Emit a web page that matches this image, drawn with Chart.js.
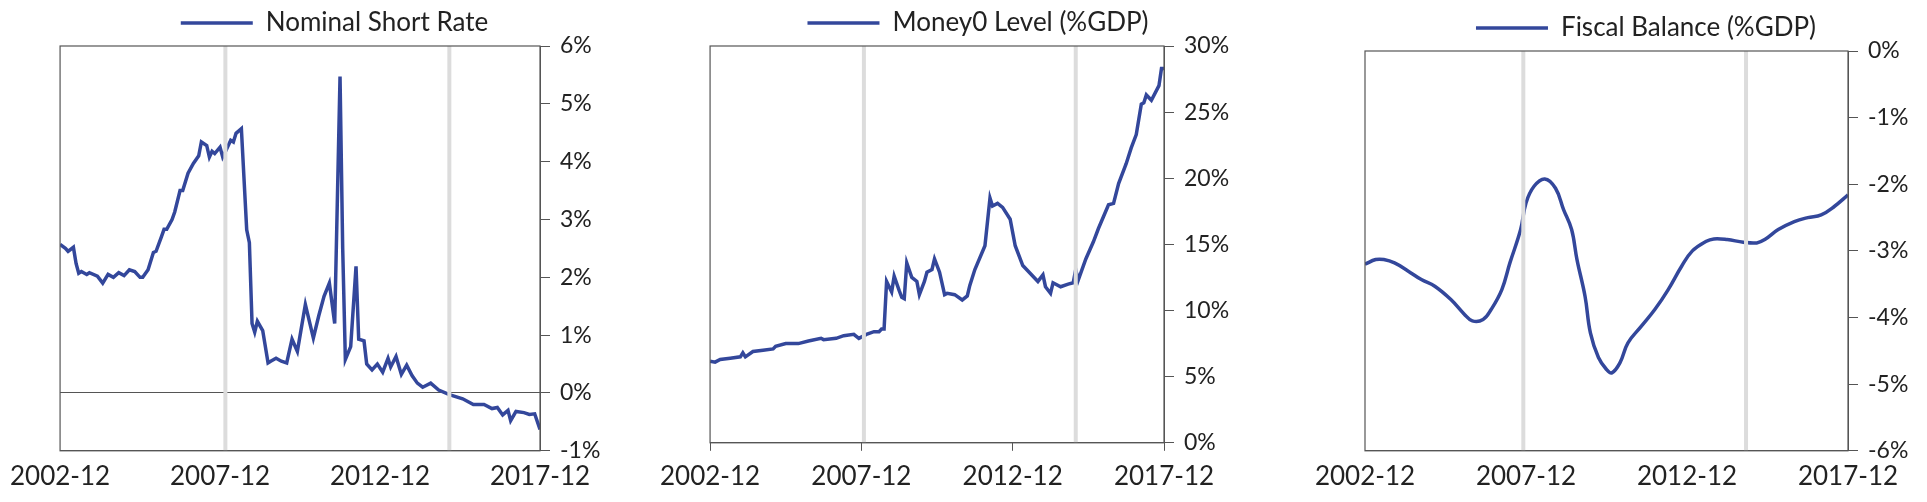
<!DOCTYPE html>
<html>
<head>
<meta charset="utf-8">
<script src="https://cdn.jsdelivr.net/npm/chart.js@4/dist/chart.umd.min.js"></script>
<style>
  body { margin: 0; background: #fff; }
  .panel { position: absolute; top: 0; height: 502px; }
</style>
</head>
<body>
<div class="panel" style="left:0;width:620px"><canvas id="c1"></canvas></div>
<div class="panel" style="left:650px;width:604px"><canvas id="c2"></canvas></div>
<div class="panel" style="left:1300px;width:627px"><canvas id="c3"></canvas></div>
<script>
// months since 2002-12
const tickLabels = ['2002-12', '2007-12', '2012-12', '2017-12'];

const rateMonths = [0, 2, 3, 5, 6, 7, 8, 10, 11, 14, 16, 18, 20, 22, 24, 26, 28, 30, 31, 33, 35, 36, 38, 39, 40, 42, 43, 45, 46, 48, 50, 52, 53, 55, 56, 57, 58, 60, 61, 62, 64, 65, 66, 68, 70, 71, 72, 73, 74, 76, 78, 79, 81, 83, 85, 87, 89, 92, 95, 97, 99, 101, 103, 105, 106, 107, 109, 111, 112, 114, 115, 117, 119, 121, 123, 124, 126, 128, 130, 132, 134, 136, 139, 142, 146, 151, 155, 159, 162, 164, 166, 168, 169, 171, 174, 176, 178, 180];
const rateValues = [2.57, 2.5, 2.45, 2.52, 2.24, 2.07, 2.1, 2.05, 2.08, 2.02, 1.9, 2.05, 2.0, 2.08, 2.03, 2.13, 2.1, 2.0, 2.0, 2.13, 2.43, 2.45, 2.7, 2.83, 2.83, 3.0, 3.13, 3.5, 3.5, 3.8, 3.97, 4.1, 4.34, 4.28, 4.08, 4.18, 4.14, 4.25, 4.08, 4.17, 4.37, 4.34, 4.49, 4.57, 2.82, 2.6, 1.2, 1.05, 1.24, 1.08, 0.52, 0.55, 0.6, 0.55, 0.52, 0.93, 0.72, 1.53, 0.95, 1.33, 1.67, 1.9, 1.2, 5.47, 2.5, 0.58, 0.8, 2.19, 0.93, 0.9, 0.5, 0.4, 0.5, 0.36, 0.6, 0.45, 0.63, 0.32, 0.48, 0.3, 0.17, 0.1, 0.17, 0.05, -0.03, -0.1, -0.2, -0.2, -0.27, -0.25, -0.38, -0.3, -0.48, -0.32, -0.34, -0.37, -0.36, -0.63];

const moneyMonths = [0, 2, 4, 8, 12, 13, 14, 17, 21, 25, 26, 30, 35, 39, 44, 45, 50, 53, 57, 59, 62, 65, 67, 68, 69, 70, 72, 73, 75, 76, 77, 78, 80, 82, 83, 85, 86, 88, 89, 91, 93, 94, 97, 100, 102, 103, 105, 109, 111, 112, 114, 116, 119, 121, 124, 127, 130, 132, 133, 135, 136, 139, 142, 144, 145, 146, 149, 152, 154, 158, 160, 162, 165, 167, 169, 171, 172, 173, 175, 178, 179, 180];
const moneyValues = [6.17, 6.1, 6.3, 6.4, 6.5, 6.8, 6.5, 6.9, 7.0, 7.1, 7.3, 7.5, 7.5, 7.7, 7.9, 7.8, 7.9, 8.1, 8.2, 7.9, 8.2, 8.4, 8.4, 8.6, 8.6, 12.2, 11.4, 12.6, 11.5, 11.0, 10.9, 13.6, 12.5, 12.2, 11.2, 12.2, 12.9, 13.1, 13.9, 12.9, 11.2, 11.3, 11.2, 10.8, 11.1, 11.9, 13.1, 14.9, 18.5, 17.9, 18.1, 17.8, 16.9, 14.9, 13.4, 12.8, 12.2, 12.7, 11.8, 11.3, 12.1, 11.8, 12.0, 12.1, 13.1, 12.3, 13.9, 15.2, 16.2, 18.0, 18.1, 19.6, 21.1, 22.3, 23.3, 25.6, 25.7, 26.3, 25.9, 27.0, 28.3, 28.3];

const fiscalMonths = [0, 4, 7, 11, 16, 21, 26, 32, 37, 40, 44, 47, 51, 54, 58, 60, 63, 67, 71, 74, 77, 79, 82, 84, 87, 90, 92, 95, 98, 103, 108, 113, 118, 122, 127, 130, 135, 141, 146, 149, 154, 160, 165, 170, 175, 180];
const fiscalValues = [-3.2, -3.13, -3.13, -3.18, -3.3, -3.43, -3.53, -3.73, -3.95, -4.05, -4.03, -3.88, -3.58, -3.18, -2.68, -2.28, -2.03, -1.92, -2.06, -2.38, -2.68, -3.13, -3.68, -4.23, -4.6, -4.78, -4.83, -4.68, -4.38, -4.13, -3.88, -3.58, -3.23, -3.0, -2.86, -2.82, -2.83, -2.87, -2.88, -2.83, -2.68, -2.56, -2.5, -2.46, -2.33, -2.16];

const BLUE = '#33479b';
const FONT = 'Lato, "Open Sans", sans-serif';

const boxPlugin = {
  id: 'box',
  afterDatasetsDraw(chart) {
    const a = chart.chartArea, ctx = chart.ctx;
    ctx.save();
    ctx.strokeStyle = '#555';
    ctx.lineWidth = 1.2;
    ctx.strokeRect(a.left, a.top, a.right - a.left, a.bottom - a.top);
    ctx.restore();
  }
};

function makeChart(id, opt) {
  const pts = opt.months.map((m, i) => ({ x: m, y: opt.values[i] }));
  const recess = opt.recess.map(m => ({
    data: [{ x: m, y: opt.min }, { x: m, y: opt.max }],
    borderColor: '#dcdcdc', borderWidth: 4, pointRadius: 0, label: ''
  }));
  const xTicks = [0, 60, 120, 180];
  return new Chart(document.getElementById(id), {
    type: 'line',
    data: {
      datasets: [...recess, {
        label: opt.label, data: pts, borderColor: BLUE, backgroundColor: BLUE,
        borderWidth: 3.5, pointRadius: 0, tension: opt.tension || 0
      }]
    },
    plugins: [boxPlugin],
    options: {
      responsive: true, maintainAspectRatio: false, animation: false,
      layout: { padding: { left: opt.padLeft, top: opt.padTop, bottom: 0 } },
      plugins: {
        tooltip: { enabled: false },
        legend: {
          labels: {
            filter: it => it.text !== '',
            usePointStyle: true, pointStyle: 'line', pointStyleWidth: 72, boxHeight: 4,
            color: '#222', font: { family: FONT, size: 26 }, padding: 6
          }
        }
      },
      scales: {
        x: {
          type: 'linear', min: 0, max: 180,
          afterBuildTicks: s => { s.ticks = xTicks.map(v => ({ value: v })); },
          ticks: {
            callback: (v, i) => tickLabels[i], maxRotation: 0, autoSkip: false,
            color: '#222', font: { family: FONT, size: 26 }, padding: 10
          },
          grid: { display: true, drawOnChartArea: false, tickLength: opt.xTickLen, color: '#555' },
          border: { color: '#555' }
        },
        y: {
          position: 'right', min: opt.min, max: opt.max,
          afterFit: s => { s.width = opt.axisWidth; },
          ticks: {
            stepSize: opt.step, callback: v => v + '%',
            color: '#222', font: { family: FONT, size: 23 }, padding: 10
          },
          grid: {
            drawOnChartArea: true, tickLength: 10, tickColor: '#555',
            color: ctx => (opt.zeroLine && ctx.tick && ctx.tick.value === 0) ? '#555' : 'rgba(0,0,0,0)'
          },
          border: { color: '#555' }
        }
      }
    }
  });
}

makeChart('c1', {
  label: 'Nominal Short Rate', months: rateMonths, values: rateValues,
  recess: [62, 146], min: -1, max: 6, step: 1, zeroLine: true,
  padLeft: 49, padTop: 4, axisWidth: 80, xTickLen: 0
});
makeChart('c2', {
  label: 'Money0 Level (%GDP)', months: moneyMonths, values: moneyValues,
  recess: [61, 145], min: 0, max: 30, step: 5,
  padLeft: 52, padTop: 4, axisWidth: 90, xTickLen: 8
});
makeChart('c3', {
  label: 'Fiscal Balance (%GDP)', months: fiscalMonths, values: fiscalValues,
  recess: [59, 142], min: -6, max: 0, step: 1, tension: 0.4,
  padLeft: 65, padTop: 9, axisWidth: 79, xTickLen: 0
});
</script>
</body>
</html>
